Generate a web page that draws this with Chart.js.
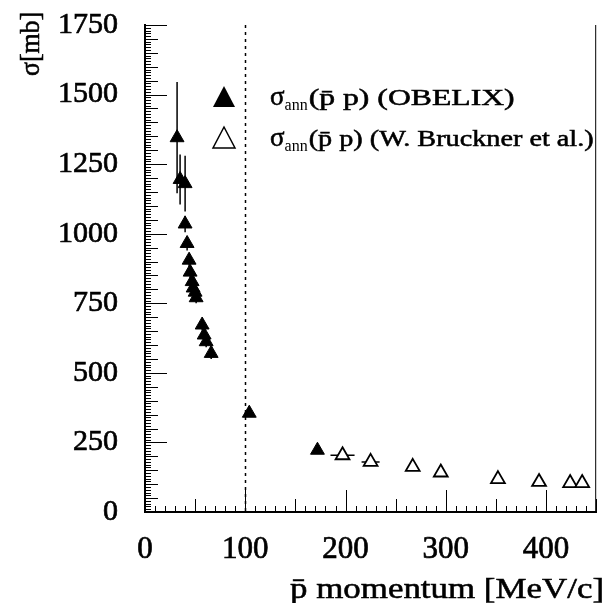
<!DOCTYPE html>
<html>
<head>
<meta charset="utf-8">
<script src="https://cdn.jsdelivr.net/npm/chart.js@4.4.1/dist/chart.umd.min.js"></script>
<style>
body { margin: 0; background: #fff; }
#wrap { width: 606px; height: 603px; }
</style>
</head>
<body>
<div id="wrap"><canvas id="sigmaAnn" width="606" height="603"></canvas></div>
<script>
// OBELIX: momentum [MeV/c], sigma_ann [mb], error on sigma
var obelixP     = [32, 35, 40, 40, 42, 44, 45, 47, 48, 50, 51, 57, 59, 61, 66, 104, 172];
var obelixSigma = [1345, 1195, 1180, 1035, 965, 905, 862, 828, 805, 790, 770, 672, 636, 612, 570, 355, 222];
var obelixErr   = [200, 90, 100, 30, 25, 25, 25, 25, 25, 25, 20, 20, 20, 20, 20, 10, 8];

// W. Bruckner et al.: momentum, sigma_ann, error on momentum
var bruckP     = [197, 225, 267, 295, 352, 393, 424, 436];
var bruckSigma = [204, 180, 162, 142, 118, 108, 104, 104];
var bruckPErr  = [12, 9, 0, 0, 0, 0, 0, 0];

var xTickVals = [0, 100, 200, 300, 400];
var yTickVals = [0, 250, 500, 750, 1000, 1250, 1500, 1750];
var cutP = 100; // dotted line

var serif = 'Liberation Serif';

function pts(xs, ys) {
    return xs.map(function(v, i) { return { x: v, y: ys[i] }; });
}

// text stretched to a given width (the scan is wider and darker than Times)
function wideText(ctx, txt, x, y, w) {
    var m = ctx.measureText(txt).width;
    ctx.save();
    ctx.translate(x, y);
    ctx.scale(w / m, 1);
    ctx.lineWidth = 0.55;
    ctx.fillText(txt, 0, 0);
    ctx.strokeText(txt, 0, 0);
    ctx.restore();
}

// error bars + dotted line, under the markers
var errBars = {
    id: 'errBars',
    beforeDatasetsDraw: function(chart) {
        var ctx = chart.ctx, xs = chart.scales.x, ys = chart.scales.y, a = chart.chartArea;
        ctx.save();
        ctx.strokeStyle = '#000';
        ctx.lineWidth = 1.5;
        ctx.beginPath();
        obelixP.forEach(function(p, i) {
            var px = xs.getPixelForValue(p);
            ctx.moveTo(px, ys.getPixelForValue(obelixSigma[i] - obelixErr[i]));
            ctx.lineTo(px, ys.getPixelForValue(obelixSigma[i] + obelixErr[i]));
        });
        bruckP.forEach(function(p, i) {
            if (!bruckPErr[i]) return;
            var py = ys.getPixelForValue(bruckSigma[i]);
            ctx.moveTo(xs.getPixelForValue(p - bruckPErr[i]), py);
            ctx.lineTo(xs.getPixelForValue(p + bruckPErr[i]), py);
        });
        ctx.stroke();

        ctx.setLineDash([3, 4]);
        ctx.beginPath();
        var cx = Math.round(xs.getPixelForValue(cutP)) + 0.5;
        ctx.moveTo(cx, a.top);
        ctx.lineTo(cx, a.bottom);
        ctx.stroke();
        ctx.restore();
    }
};

// ROOT style ticks pointing inwards, frame on the right, axis titles
var innerTicks = {
    id: 'innerTicks',
    afterDraw: function(chart) {
        var ctx = chart.ctx, xs = chart.scales.x, ys = chart.scales.y, a = chart.chartArea;
        ctx.save();
        ctx.strokeStyle = '#000';
        ctx.lineWidth = 1;
        ctx.beginPath();
        for (var v = 0; v <= 1750; v += 10) {
            var len = v % 250 === 0 ? 22 : (v % 50 === 0 ? 13 : 6);
            var py = Math.round(ys.getPixelForValue(v)) + 0.5;
            ctx.moveTo(a.left, py);
            ctx.lineTo(a.left + len, py);
        }
        for (var u = 0; u <= 450; u += 10) {
            var l2 = u % 100 === 0 ? 22 : (u % 50 === 0 ? 13 : 6);
            var px = Math.round(xs.getPixelForValue(u)) + 0.5;
            ctx.moveTo(px, a.bottom);
            ctx.lineTo(px, a.bottom - l2);
        }
        ctx.stroke();
        ctx.beginPath();
        ctx.moveTo(a.right - 0.5, a.top);
        ctx.lineTo(a.right - 0.5, a.bottom);
        ctx.stroke();

        ctx.fillStyle = '#000';
        ctx.textBaseline = 'alphabetic';
        ctx.font = '30px "' + serif + '"';
        wideText(ctx, 'p\u0304 momentum [MeV/c]', 290, 598, 314);

        ctx.save();
        ctx.translate(39, 76);
        ctx.rotate(-Math.PI / 2);
        ctx.font = '27px "' + serif + '"';
        wideText(ctx, '\u03c3[mb]', 0, 0, 64);
        ctx.restore();
        ctx.restore();
    }
};

// legend with subscripts, drawn by hand
var legendBox = {
    id: 'legendBox',
    afterDraw: function(chart) {
        var ctx = chart.ctx;
        var rows = [
            { y: 97, fill: true, txt: '(p\u0304 p) (OBELIX)', w: 206 },
            { y: 138, fill: false, txt: '(p\u0304 p) (W. Bruckner et al.)', w: 285 }
        ];
        ctx.save();
        ctx.fillStyle = '#000';
        ctx.strokeStyle = '#000';
        rows.forEach(function(r) {
            ctx.beginPath();
            ctx.moveTo(224, r.y - 11);
            ctx.lineTo(235, r.y + 10);
            ctx.lineTo(213, r.y + 10);
            ctx.closePath();
            if (r.fill) {
                ctx.fill();
            } else {
                ctx.fillStyle = '#fff';
                ctx.fill();
                ctx.lineWidth = 1.5;
                ctx.stroke();
                ctx.fillStyle = '#000';
            }
            var x = 270, base = r.y + 8;
            ctx.textBaseline = 'alphabetic';
            ctx.font = '27px "' + serif + '"';
            wideText(ctx, '\u03c3', x, base, ctx.measureText('\u03c3').width);
            x += ctx.measureText('\u03c3').width;
            ctx.font = '16px "' + serif + '"';
            ctx.fillText('ann', x, base + 5);
            x += ctx.measureText('ann').width + 1;
            ctx.font = '24px "' + serif + '"';
            wideText(ctx, r.txt, x, base, r.w);
        });
        ctx.restore();
    }
};

new Chart(document.getElementById('sigmaAnn'), {
    type: 'scatter',
    data: {
        datasets: [
            {
                label: 'OBELIX',
                data: pts(obelixP, obelixSigma),
                pointStyle: 'triangle',
                pointRadius: 8,
                backgroundColor: '#000',
                borderColor: '#000',
                borderWidth: 1
            },
            {
                label: 'W. Bruckner et al.',
                data: pts(bruckP, bruckSigma),
                pointStyle: 'triangle',
                pointRadius: 8,
                backgroundColor: '#fff',
                borderColor: '#000',
                borderWidth: 1.8
            }
        ]
    },
    options: {
        responsive: false,
        animation: false,
        clip: false,
        layout: { padding: { top: 25, right: 2, left: 0, bottom: 0 } },
        plugins: { legend: { display: false }, tooltip: { enabled: false } },
        scales: {
            x: {
                type: 'linear',
                min: 0,
                max: 450,
                afterBuildTicks: function(s) { s.ticks = xTickVals.map(function(v) { return { value: v }; }); },
                afterFit: function(s) { s.height = 91; s.paddingLeft = 0; s.paddingRight = 0; },
                grid: { display: true, drawOnChartArea: false, drawTicks: false },
                border: { display: true, color: '#000', width: 2 },
                ticks: {
                    color: '#000', padding: 19, maxRotation: 0,
                    textStrokeColor: '#000', textStrokeWidth: 0.7,
                    font: { family: serif, size: 31 },
                    callback: function(v) { return String(v); }
                },
                title: { display: false }
            },
            y: {
                type: 'linear',
                min: 0,
                max: 1750,
                afterBuildTicks: function(s) { s.ticks = yTickVals.map(function(v) { return { value: v }; }); },
                afterFit: function(s) { s.width = 145; s.paddingTop = 0; s.paddingBottom = 0; },
                grid: { display: true, drawOnChartArea: false, drawTicks: false },
                border: { display: true, color: '#000', width: 2 },
                ticks: {
                    color: '#000', padding: 27,
                    textStrokeColor: '#000', textStrokeWidth: 0.7,
                    font: { family: serif, size: 30 },
                    callback: function(v) { return String(v); }
                },
                title: { display: false }
            }
        }
    },
    plugins: [errBars, innerTicks, legendBox]
});
</script>
</body>
</html>
